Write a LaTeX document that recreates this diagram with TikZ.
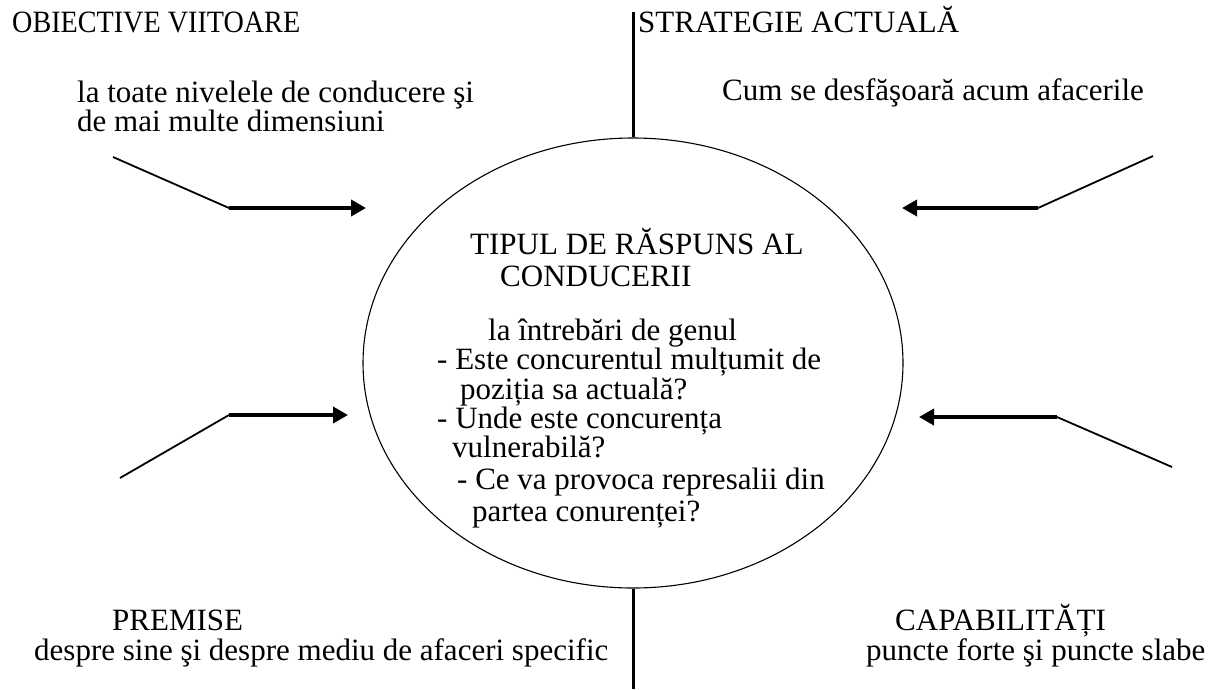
\documentclass[tikz,border=0pt]{standalone}
\usepackage{fontspec}
\setmainfont{Liberation Serif}
\usetikzlibrary{arrows.meta,shapes.geometric}
\begin{document}
\begin{tikzpicture}[x=1pt,y=-1pt,
  txt/.style={anchor=base west,inner sep=0pt,font=\fontsize{31}{33}\selectfont},
  slant/.style={line width=1.8pt,line join=miter},
  shaft/.style={line width=3.6pt,-{Triangle[length=15pt,width=16pt]}},
  axis/.style={line width=3pt}]
\useasboundingbox (0,0) rectangle (1210,689);
% central ellipse
\node[draw,ellipse,line width=1.1pt,minimum width=540pt,minimum height=450pt,inner sep=0pt] (c) at (633,363) {};
% vertical axis
\coordinate (ttop) at (633,12);
\coordinate (tbot) at (633,689);
\draw[axis] (ttop) -- (c.north);
\draw[axis] (c.south) -- (tbot);
% corner labels
\node[txt] (ob) at (12,32) {\resizebox{288pt}{\height}{OBIECTIVE VIITOARE}};
\node[txt] (st) at (638,32) {\resizebox{321pt}{\height}{STRATEGIE ACTUALĂ}};
\node[txt] (ob1) at (77,102) {la toate nivelele de conducere şi};
\node[txt] (ob2) at (77,131) {de mai multe dimensiuni};
\node[txt] (st1) at (722,100) {Cum se desfăşoară acum afacerile};
\node[txt] (pr) at (112,630) {PREMISE};
\node[txt] (pr1) at (34,660) {despre sine şi despre mediu de afaceri specific};
\node[txt] (ca) at (895,630) {CAPABILITĂȚI};
\node[txt] (ca1) at (866,660) {puncte forte şi puncte slabe};
% inside text
\node[txt] (t1) at (470,254) {TIPUL DE RĂSPUNS AL};
\node[txt] (t2) at (500,286) {CONDUCERII};
\node[txt] (q0) at (488,340) {la întrebări de genul};
\node[txt] (q1) at (437,369) {- Este concurentul mulțumit de};
\node[txt] (q2) at (460,399) {poziția sa actuală?};
\node[txt] (q3) at (437,428) {- Unde este concurența};
\node[txt] (q4) at (452,457) {vulnerabilă?};
\node[txt] (q5) at (457,489) {- Ce va provoca represalii din};
\node[txt] (q6) at (472,521) {partea conurenței?};
% arrows
\coordinate (a1s) at (113,157); \coordinate (a1c) at (229,208); \coordinate (a1t) at (366,208);
\coordinate (a2s) at (120,478); \coordinate (a2c) at (229,415); \coordinate (a2t) at (348,415);
\coordinate (a3s) at (1153,156); \coordinate (a3c) at (1038,208); \coordinate (a3t) at (902,208);
\coordinate (a4s) at (1172,467); \coordinate (a4c) at (1057,417); \coordinate (a4t) at (919,417);
\draw[slant] (a1s) -- (a1c); \draw[shaft] (a1c) -- (a1t);
\draw[slant] (a2s) -- (a2c); \draw[shaft] (a2c) -- (a2t);
\draw[slant] (a3s) -- (a3c); \draw[shaft] (a3c) -- (a3t);
\draw[slant] (a4s) -- (a4c); \draw[shaft] (a4c) -- (a4t);
\end{tikzpicture}
\end{document}
